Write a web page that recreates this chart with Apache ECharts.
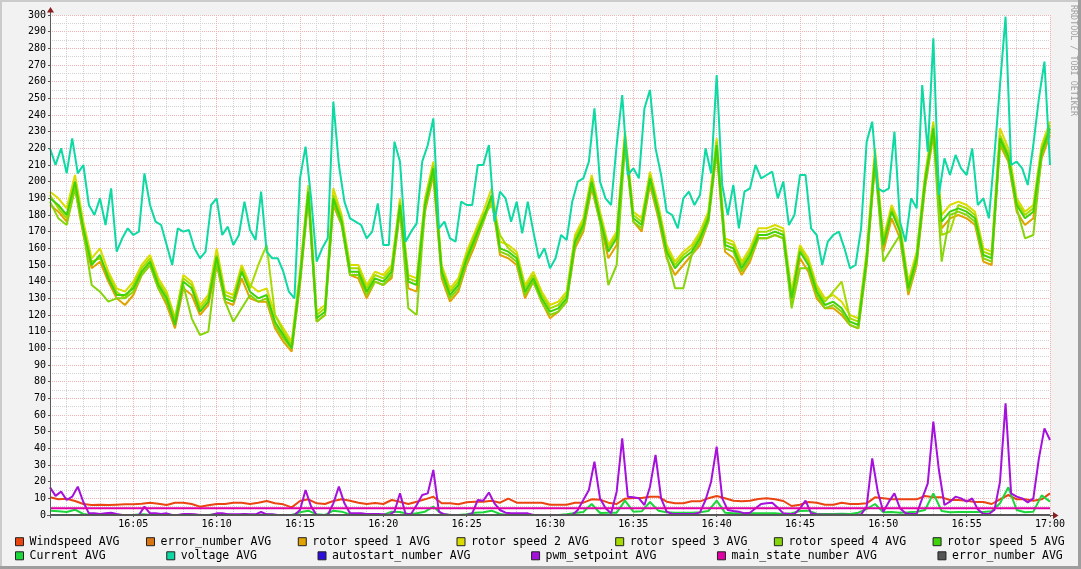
<!DOCTYPE html>
<html><head><meta charset="utf-8">
<script src="https://cdn.jsdelivr.net/npm/echarts@6/dist/echarts.min.js"></script>
<style>html,body{margin:0;padding:0;background:#F2F2F2}#c{width:1081px;height:569px}</style>
</head><body><div id="c"></div>
<script>
// ---- tick labels ----
const timeLabels = ['16:00','16:05','16:10','16:15','16:20','16:25','16:30','16:35','16:40','16:45','16:50','16:55','17:00'];
const legendRow1 = ['Windspeed AVG','error_number AVG','rotor speed 1 AVG','rotor speed 2 AVG','rotor speed 3 AVG','rotor speed 4 AVG','rotor speed 5 AVG'];
const legendRow2 = ['Current AVG','voltage AVG','autostart_number AVG','pwm_setpoint AVG','main_state_number AVG','error_number AVG '];

// ---- sample spacing (seconds) ----
const step30 = 30, step20 = 20, step300 = 300;

// ---- series values (every 30 s from 16:00) ----
const windspeed = [10.6,9.4,9.8,8.4,6.6,6,6.2,6,6.2,6.4,
6.4,6.8,7.4,6.8,6,7.4,7.4,6.6,5,5.8,
6.6,6.6,7.4,7.4,6.6,7.4,8.4,7,6.4,4.6,
8.4,9.4,7,6.6,8.4,9.4,8.6,7.4,6.6,7.2,
6.6,9,8,6.6,8,9.4,11,7,7,6.4,
7.6,8,8,8.6,7.4,9.8,7.4,7.4,7.4,7.4,
6.2,6.2,6.2,7.4,7.4,9.4,9.2,7.4,6.6,9.8,
10.2,10.2,11,11,8,7,7,8.2,8.2,10,
11.4,10,8.6,8.2,8.6,9.6,10,9.4,8.4,5.4,
6.2,7.8,7.4,6.2,6.2,7.4,6.6,6.6,7,10.6,
10,9.4,9.4,9.4,9.4,11.4,10.6,10.6,9,9,
8.6,7.8,7.8,6.6,9.4,12,9.4,9.4,8.6,9.4,
13];

const rotor1 = [186,182,176,196,168,148,152,140,130,126,
132,144,150,136,126,112,136,132,120,126,
150,128,126,142,130,128,128,112,104,98,
138,190,116,120,186,174,144,142,130,140,
138,142,182,136,134,182,204,142,128,134,
150,162,176,190,156,154,150,130,140,128,
118,122,128,160,170,196,176,154,162,222,
176,170,198,178,154,144,150,156,162,176,
218,158,154,144,152,166,166,168,166,126,
154,146,130,124,124,120,114,112,150,210,
158,178,166,132,150,196,228,172,178,180,
178,174,152,150,222,212,182,174,178,214,
228];

const rotor2 = [194,190,184,204,176,154,160,146,136,134,
140,150,156,142,134,118,144,140,126,132,
160,134,132,150,138,134,136,120,112,104,
146,198,122,126,196,180,150,150,138,146,
144,150,190,144,142,190,212,150,136,142,
158,170,182,196,164,162,158,138,146,134,
126,128,134,168,178,204,182,162,170,230,
182,178,206,186,162,152,158,162,170,182,
226,166,164,152,160,172,172,174,172,134,
162,154,138,130,132,128,120,118,158,220,
166,186,174,140,158,204,236,180,186,188,
186,182,160,158,232,220,190,182,186,222,
236];

const rotor3 = [192,184,178,198,170,152,154,144,134,130,
138,148,154,140,132,118,142,138,124,130,
156,132,130,148,136,150,162,120,110,102,
144,196,120,124,192,178,148,148,136,144,
142,148,188,142,140,188,210,148,134,140,
156,168,180,186,168,160,156,136,144,132,
124,126,132,166,176,202,180,160,168,228,
180,176,204,184,160,150,156,160,168,180,
224,164,162,150,158,170,170,172,170,128,
160,152,136,128,134,140,118,116,156,216,
164,184,172,138,156,202,234,168,170,186,
184,180,158,156,228,217,188,180,184,220,
234];

const rotor4 = [188,178,174,196,170,138,134,128,130,130,
134,144,150,136,128,116,138,118,108,110,
152,128,116,124,132,128,130,114,106,100,
140,192,116,120,188,174,144,144,132,140,
138,144,184,124,120,184,206,144,130,136,
152,164,176,190,158,156,152,132,140,128,
120,122,128,162,172,198,176,138,150,222,
176,172,200,180,156,136,136,156,164,176,
220,160,158,146,154,166,166,168,166,124,
148,148,132,124,126,122,114,112,152,212,
152,160,168,134,152,198,230,152,180,182,
180,176,154,152,224,213,184,166,168,216,
230];

const rotor5 = [190,186,180,200,172,150,156,142,132,132,
136,146,152,138,130,114,140,136,122,128,
155,130,128,146,134,130,132,116,108,100,
142,194,118,122,190,176,146,146,134,142,
140,146,186,140,138,186,208,146,132,138,
154,166,178,192,160,158,154,134,142,130,
122,124,130,164,174,200,178,158,166,226,
178,174,202,182,158,148,154,158,166,178,
222,162,160,148,156,168,168,170,168,130,
158,150,134,126,128,124,116,114,154,214,
162,182,170,136,154,200,232,176,182,184,
182,178,156,154,226,215,186,178,182,218,
232];

const current = [2.6,2.2,1.8,3.2,0.6,0,0,0,0,0,
0,0.4,0.2,0,0,0,0,0,0,0,
0.6,0.4,0,0,0,0,0.4,0,0,0,
1.6,2.6,0.4,0,2.6,2,0.4,0,0,0,
0,2,1.8,0.6,1,2,5,0.6,0,0,
0.4,1.4,1.6,2.6,0.6,0,0,0,0,0,
0,0,0.4,1.2,1.8,6.6,1.2,1.4,1.4,8.6,
2,2.2,7.8,2.6,1.6,1.4,1.4,1.4,1.6,2.4,
8.6,1.4,1,1,1,1,1,1,0.6,1,
2.4,2.6,0.8,0.6,0.6,0.8,0.6,1.4,3.6,6.6,
1.6,1.8,1.4,1.6,2,3,13,2.4,1.6,1.8,
1.8,1.8,1.8,2.2,7,16.6,3,1.6,2,11.8,
8];

// ---- series values (every 20 s from 16:00) ----
const voltage = [220,210,220,205,226,205,210,186,180,190,174,196,158,166,172,168,170,205,186,176,174,162,150,172,170,171,160,154,158,186,190,
168,173,162,168,188,171,165,194,158,154,154,146,134,130,202,221,190,152,160,166,248,210,188,178,176,174,166,170,187,162,
162,224,212,164,170,175,212,222,238,172,176,166,164,188,186,186,210,210,222,176,194,190,176,188,169,188,170,154,160,148,
154,168,165,188,200,202,212,244,200,190,186,222,252,204,208,202,244,255,220,204,182,180,172,190,194,186,192,220,205,264,
198,180,198,172,194,196,210,202,204,206,190,200,174,180,204,204,172,168,150,164,168,170,160,148,150,172,224,236,196,194,
196,230,176,164,190,184,258,218,286,192,214,204,216,208,204,220,186,190,178,216,258,299,210,212,208,198,222,250,272,210];

const pwmSetpoint = [16.6,11.5,14,9,11,17,7.8,1,1,0.6,1,1.4,0.6,0,0,
0,0,5,1,1,0.6,1,0,0,0.6,0.6,0.4,0,0,0,
1,1,0.4,0.4,0.4,0.6,0.4,0.4,1.8,0.4,0.4,0,0,0,0,
3,15,5,0,0,0,7,17,7,1,1,1,0.6,0.6,0.6,
0.4,0,2,13,0.6,0.6,6,12,13,27,2,0.4,0,0,0,
0,1,9,8.6,13.5,7,3,1.4,1,1,1,1,0,0,0,
0,0,0,0,0,3,9,15,32,10,4,1,14,46,11,
10.6,10,6,17,36,10,2,0.6,0.6,0.6,0.6,0.6,1.6,9,20,
41,10,3,2.4,2,1,1.4,4,6.6,7,7.4,4.4,1,0.6,0.6,
4,8.6,1,0.4,0.2,0.2,0.2,0.2,0.2,0,0,0.4,5,34,14,
2,8,13,4,1,0.6,0.6,10,19,56,27,6,8,11,10,
8,10,3.4,0.6,0.6,3,20,67,13,11,10,7.6,10,34,52,
45];

// ---- series values (every 5 min from 16:00) ----
const errorNumber = [0,0,0,0,0,0,0,0,0,0,0,0,0];
const autostartNumber = [0,0,0,0,0,0,0,0,0,0,0,0,0];
const mainStateNumber = [4,4,4,4,4,4,4,4,4,4,4,4,4];
const errorNumber2 = [0,0,0,0,0,0,0,0,0,0,0,0,0];

const COLORS = {
  wind:'#EA4410', err:'#D97612', r1:'#E0A300', r2:'#DADC00', r3:'#A6DB00', r4:'#86D50A', r5:'#3FD10A',
  cur:'#1DD63C', volt:'#0CD9A3', auto:'#2B0EDB', pwm:'#A510DC', main:'#E000A4', err2:'#555555'
};
const MONO = "'DejaVu Sans Mono', monospace";

function mk(name, vals, stepSec, color) {
  return {
    type:'line', name: name,
    data: vals.map((v,i) => [i*stepSec/60, v]),
    showSymbol:false, symbol:'none', color: color,
    lineStyle:{width:2, color: color}, itemStyle:{color: color},
    animation:false, silent:true
  };
}

const series = [
  mk(legendRow1[0], windspeed, step30, COLORS.wind),
  mk(legendRow1[1], errorNumber, step300, COLORS.err),
  mk(legendRow1[2], rotor1, step30, COLORS.r1),
  mk(legendRow1[3], rotor2, step30, COLORS.r2),
  mk(legendRow1[4], rotor3, step30, COLORS.r3),
  mk(legendRow1[5], rotor4, step30, COLORS.r4),
  mk(legendRow1[6], rotor5, step30, COLORS.r5),
  mk(legendRow2[0], current, step30, COLORS.cur),
  mk(legendRow2[1], voltage, step20, COLORS.volt),
  mk(legendRow2[2], autostartNumber, step300, COLORS.auto),
  mk(legendRow2[3], pwmSetpoint, step20, COLORS.pwm),
  mk(legendRow2[4], mainStateNumber, step300, COLORS.main),
  mk(legendRow2[5], errorNumber2, step300, COLORS.err2)
];

const legendBase = {
  orient:'horizontal', left:15, padding:0, icon:'rect', itemWidth:8, itemHeight:8,
  selectedMode:false,
  itemStyle:{borderColor:'#222', borderWidth:1},
  textStyle:{fontFamily:MONO, fontSize:11.5, color:'#000', lineHeight:12, padding:[0,0,0,1]}
};

const option = {
  backgroundColor:'#F2F2F2',
  animation:false,
  grid:{left:50, right:31, top:15, bottom:54, show:true, backgroundColor:'#FFFFFF', borderWidth:0},
  legend:[
    Object.assign({}, legendBase, {top:535.7, itemGap:26.5, data:legendRow1}),
    Object.assign({}, legendBase, {top:549.8, itemGap:60.6, data:legendRow2})
  ],
  xAxis:{
    type:'value', min:0, max:60, interval:5,
    axisLine:{show:false},
    axisTick:{show:true, length:2, lineStyle:{color:'#555'}},
    minorTick:{show:false, splitNumber:5},
    axisLabel:{fontFamily:MONO, fontSize:10, color:'#000', margin:4,
      formatter:function(v){ return v===0 ? '' : timeLabels[Math.round(v/5)]; }},
    splitLine:{show:true, lineStyle:{color:'#F3B2B2', type:[1,1], width:1}},
    minorSplitLine:{show:true, lineStyle:{color:'#D2D2D2', type:[1,1], width:1}}
  },
  yAxis:{
    type:'value', min:0, max:300, interval:10,
    axisLine:{show:false},
    axisTick:{show:true, length:2, lineStyle:{color:'#555'}},
    minorTick:{show:false, splitNumber:2},
    axisLabel:{fontFamily:MONO, fontSize:10, color:'#000', margin:4},
    splitLine:{show:true, lineStyle:{color:'#F3B2B2', type:[1,1], width:1}},
    minorSplitLine:{show:true, lineStyle:{color:'#D2D2D2', type:[1,1], width:1}}
  },
  series: series
};

const chart = echarts.init(document.getElementById('c'), null, {renderer:'canvas'});
chart.setOption(option);

const o = chart.convertToPixel({gridIndex:0}, [0,0]);
const t = chart.convertToPixel({gridIndex:0}, [0,300]);
const r = chart.convertToPixel({gridIndex:0}, [60,0]);
const AX = '#5A5A5A', AR = '#8B1E1E';
chart.setOption({
  graphic:[
    {type:'rect', shape:{x:0,y:0,width:1081,height:2}, style:{fill:'#CBCBCB'}, silent:true},
    {type:'rect', shape:{x:0,y:0,width:2,height:569}, style:{fill:'#CBCBCB'}, silent:true},
    {type:'rect', shape:{x:0,y:566,width:1081,height:3}, style:{fill:'#9E9E9E'}, silent:true},
    {type:'rect', shape:{x:1078,y:0,width:3,height:569}, style:{fill:'#9E9E9E'}, silent:true},
    {type:'line', shape:{x1:o[0]+0.5, y1:o[1]+3, x2:o[0]+0.5, y2:t[1]-3}, style:{stroke:AX, lineWidth:1}, z:50, silent:true},
    {type:'line', shape:{x1:o[0]-3, y1:o[1]+0.5, x2:r[0]+4, y2:o[1]+0.5}, style:{stroke:AX, lineWidth:1}, z:50, silent:true},
    {type:'polygon', shape:{points:[[o[0]-3, t[1]-2.5],[o[0]+4, t[1]-2.5],[o[0]+0.5, t[1]-8]]}, style:{fill:AR}, z:51, silent:true},
    {type:'polygon', shape:{points:[[r[0]+3, o[1]-3],[r[0]+3, o[1]+4],[r[0]+8.5, o[1]+0.5]]}, style:{fill:AR}, z:51, silent:true},
    {type:'text', x:1073, y:5, rotation:-Math.PI/2,
      style:{text:'RRDTOOL / TOBI OETIKER', font:"8.4px 'DejaVu Sans Mono', monospace", fill:'#A0A0A0', align:'left', verticalAlign:'middle'},
      silent:true}
  ]
});
</script>
</body></html>
